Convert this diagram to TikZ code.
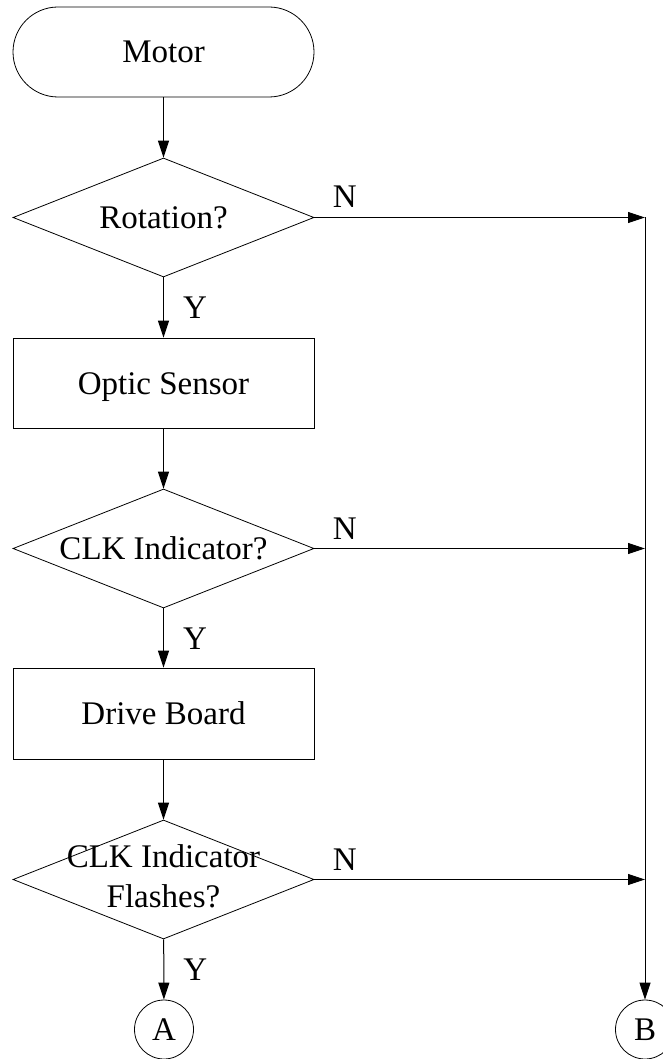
\documentclass[tikz,border=0pt]{standalone}
\usepackage{fontspec}
\setmainfont{Liberation Serif}
\usetikzlibrary{shapes.geometric,arrows.meta}

\tikzset{
  shapeline/.style={draw=black, line width=0.8pt},
  capline/.style={text height=22pt, text depth=0pt},
  terminal/.style={shapeline, capline, rectangle, rounded corners=45pt,
    minimum width=301pt, minimum height=90pt, inner sep=0pt},
  process/.style={shapeline, capline, rectangle, minimum width=301pt,
    minimum height=90pt, inner sep=0pt},
  decision/.style={shapeline, diamond, aspect=2.53, minimum width=301pt,
    minimum height=119pt, inner sep=0pt},
  connector/.style={shapeline, capline, circle, minimum size=59pt, inner sep=0pt},
  flow/.style={draw=black, line width=1pt, -{Triangle[length=17pt,width=11pt]}},
  ylabel/.style={capline, anchor=west, inner sep=0pt, xshift=19pt},
  nlabel/.style={capline, anchor=south west, inner sep=0pt, xshift=18pt, yshift=9pt}
}

\begin{document}
\begin{tikzpicture}[x=1pt, y=-1pt, font=\fontsize{33pt}{40pt}\selectfont]
  \useasboundingbox (0,0) rectangle (663,1059);

  % main column
  \node[terminal] (motor) at (163.5,52) {Motor};
  \node[decision, capline] (rot) at (163.5,217.5) {\makebox[0pt]{Rotation?}};
  \node[process] (optic) at (163.5,383) {Optic Sensor};
  \node[decision, capline] (clk) at (163.5,548.5) {\makebox[0pt]{CLK Indicator?}};
  \node[process, minimum height=91pt] (drive) at (163.5,713.5) {Drive Board};
  \node[decision] (flash) at (163.5,879.5)
    {\makebox[0pt]{\begin{tabular}{@{}c@{}}CLK Indicator\\Flashes?\end{tabular}}};
  \node[connector] (A) at (164,1029.5) {A};
  \node[connector] (B) at (645,1029.5) {B};

  % points on the right-hand return line
  \coordinate (r1) at (645,217.5);
  \coordinate (r2) at (645,548.5);
  \coordinate (r3) at (645,879.5);

  % yes path
  \draw[flow] (motor) -- (rot);
  \draw[flow] (rot) -- node[ylabel] {Y} (optic);
  \draw[flow] (optic) -- (clk);
  \draw[flow] (clk) -- node[ylabel] {Y} (drive);
  \draw[flow] (drive) -- (flash);
  \draw[flow] (flash) -- node[ylabel] {Y} (A);

  % no path
  \draw[flow] (rot.east) -- node[pos=0, nlabel] {N} (r1);
  \draw[flow] (clk.east) -- node[pos=0, nlabel] {N} (r2);
  \draw[flow] (flash.east) -- node[pos=0, nlabel] {N} (r3);
  \draw[flow] (r1) -- (B);
\end{tikzpicture}
\end{document}
